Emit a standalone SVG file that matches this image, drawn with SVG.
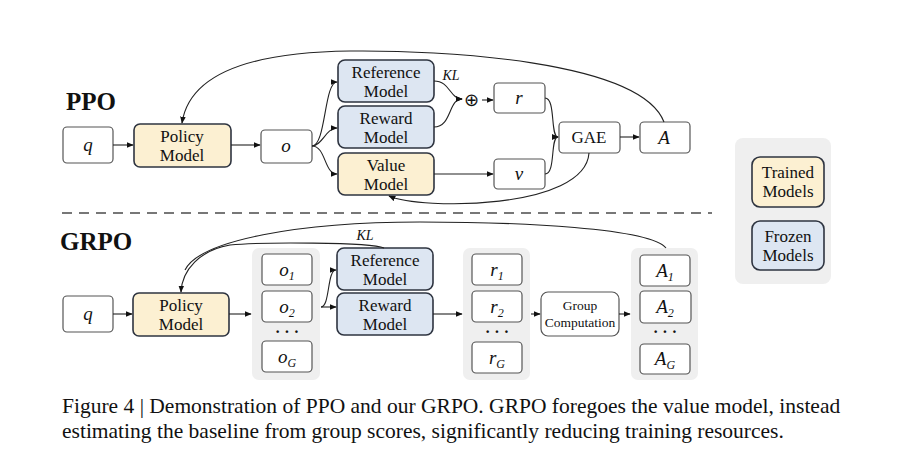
<svg xmlns="http://www.w3.org/2000/svg" width="900" height="454" viewBox="0 0 900 454" font-family="'Liberation Serif','Times New Roman',serif">
<defs>
<marker id="ah" viewBox="0 0 10 10" refX="9" refY="5" markerWidth="7" markerHeight="7" markerUnits="userSpaceOnUse" orient="auto"><path d="M0,1 L10,5 L0,9 z" fill="#111"/></marker>
<style>
.w{fill:#fff;stroke:#555;stroke-width:1.2}
.y{fill:#fcf0d2;stroke:#2e3440;stroke-width:1.6}
.b{fill:#dde6f2;stroke:#2e3440;stroke-width:1.6}
.g{fill:#efefef;stroke:none}
text{font-family:'Liberation Serif','Times New Roman',serif;fill:#111;text-anchor:middle}
.t{font-size:17px}
.m{font-size:19px;font-style:italic}
.s{font-size:12px;font-style:italic}
.h{font-size:25px;font-weight:bold;text-anchor:start}
.c{fill:none;stroke:#222;stroke-width:1.1}
</style>
</defs>
<rect width="900" height="454" fill="#fff"/>
<text class="h" x="66" y="110">PPO</text>
<text class="h" x="60" y="250">GRPO</text>
<line x1="62" y1="213" x2="712" y2="213" stroke="#777" stroke-width="2.2" stroke-dasharray="10,7"/>
<g id="legend"><rect class="g" x="735" y="138" width="96" height="146" rx="8"/>
<rect class="y" x="752" y="157" width="72" height="50" rx="8"/><text class="t" x="788" y="178">Trained</text><text class="t" x="788" y="197">Models</text>
<rect class="b" x="752" y="221" width="72" height="49" rx="8"/><text class="t" x="788" y="242">Frozen</text><text class="t" x="788" y="261">Models</text></g>
<g id="ppo-q"><rect class="w" x="63" y="127" width="50" height="36" rx="4"/><text class="m" x="88" y="151">q</text></g>
<g id="ppo-policy"><rect class="y" x="134" y="124" width="97" height="43" rx="6"/><text class="t" x="182" y="142">Policy</text><text class="t" x="182" y="161">Model</text></g>
<g id="ppo-o"><rect class="w" x="261" y="130" width="51" height="33" rx="4"/><text class="m" x="286" y="152">o</text></g>
<g id="ppo-ref"><rect class="b" x="338" y="60" width="96" height="42" rx="7"/><text class="t" x="386" y="78">Reference</text><text class="t" x="386" y="97">Model</text></g>
<g id="ppo-reward"><rect class="b" x="338" y="106" width="96" height="42" rx="7"/><text class="t" x="386" y="124">Reward</text><text class="t" x="386" y="143">Model</text></g>
<g id="ppo-value"><rect class="y" x="338" y="153" width="96" height="42" rx="7"/><text class="t" x="386" y="171">Value</text><text class="t" x="386" y="190">Model</text></g>
<g id="ppo-plus"><text x="471" y="106" style="font-size:18px">⊕</text></g>
<g id="ppo-r"><rect class="w" x="494" y="83" width="51" height="30" rx="4"/><text class="m" x="519" y="104">r</text></g>
<g id="ppo-v"><rect class="w" x="494" y="159" width="51" height="30" rx="4"/><text class="m" x="519" y="180">v</text></g>
<g id="ppo-gae"><rect class="w" x="559" y="122" width="61" height="31" rx="4"/><text class="t" x="589" y="143">GAE</text></g>
<g id="ppo-A"><rect class="w" x="640" y="122" width="50" height="31" rx="4"/><text class="m" x="664" y="144">A</text></g>
<g id="grpo-q"><rect class="w" x="63" y="296" width="50" height="36" rx="4"/><text class="m" x="88" y="320">q</text></g>
<g id="grpo-policy"><rect class="y" x="133" y="293" width="96" height="43" rx="6"/><text class="t" x="181" y="311">Policy</text><text class="t" x="181" y="330">Model</text></g>
<g id="grpo-o"><rect class="g" x="252" y="248" width="68" height="132" rx="7"/>
<rect class="w" x="262" y="254" width="50" height="31" rx="4"/><text class="m" x="287" y="276">o<tspan class="s" dy="4">1</tspan></text>
<rect class="w" x="262" y="291" width="50" height="31" rx="4"/><text class="m" x="287" y="313">o<tspan class="s" dy="4">2</tspan></text>
<text x="287" y="337" style="font-size:16px;font-weight:bold">· · ·</text>
<rect class="w" x="262" y="341" width="50" height="31" rx="4"/><text class="m" x="287" y="363">o<tspan class="s" dy="4">G</tspan></text></g>
<g id="grpo-ref"><rect class="b" x="337" y="248" width="96" height="42" rx="7"/><text class="t" x="385" y="266">Reference</text><text class="t" x="385" y="285">Model</text></g>
<g id="grpo-reward"><rect class="b" x="337" y="293" width="96" height="42" rx="7"/><text class="t" x="385" y="311">Reward</text><text class="t" x="385" y="330">Model</text></g>
<g id="grpo-r"><rect class="g" x="463" y="248" width="67" height="132" rx="7"/>
<rect class="w" x="472" y="254" width="50" height="31" rx="4"/><text class="m" x="497" y="276">r<tspan class="s" dy="4">1</tspan></text>
<rect class="w" x="472" y="291" width="50" height="31" rx="4"/><text class="m" x="497" y="313">r<tspan class="s" dy="4">2</tspan></text>
<text x="497" y="337" style="font-size:16px;font-weight:bold">· · ·</text>
<rect class="w" x="472" y="342" width="50" height="31" rx="4"/><text class="m" x="497" y="364">r<tspan class="s" dy="4">G</tspan></text></g>
<g id="grpo-gc"><rect class="w" x="541" y="292" width="78" height="44" rx="7"/><text x="580" y="310" style="font-size:13.5px">Group</text><text x="580" y="327" style="font-size:13.5px">Computation</text></g>
<g id="grpo-A"><rect class="g" x="631" y="248" width="67" height="132" rx="7"/>
<rect class="w" x="640" y="255" width="50" height="31" rx="4"/><text class="m" x="665" y="277">A<tspan class="s" dy="4">1</tspan></text>
<rect class="w" x="640" y="291" width="51" height="32" rx="4"/><text class="m" x="665" y="313">A<tspan class="s" dy="4">2</tspan></text>
<text x="665" y="337" style="font-size:16px;font-weight:bold">· · ·</text>
<rect class="w" x="640" y="344" width="50" height="30" rx="4"/><text class="m" x="665" y="365">A<tspan class="s" dy="4">G</tspan></text></g>
<g id="connectors">
<path class="c" d="M113,145 H133" marker-end="url(#ah)"/>
<path class="c" d="M231,145 H260" marker-end="url(#ah)"/>
<path class="c" d="M312,146 C326,146 324,82 337,82" marker-end="url(#ah)"/>
<path class="c" d="M312,146 C322,146 326,128 337,128" marker-end="url(#ah)"/>
<path class="c" d="M312,146 C326,146 324,174 337,174" marker-end="url(#ah)"/>
<path class="c" d="M434,81 C450,81 450,99 462,99" marker-end="url(#ah)"/>
<path class="c" d="M434,127 C452,127 448,99 462,99" marker-end="url(#ah)"/>
<text x="451" y="80" style="font-size:14px;font-style:italic">KL</text>
<path class="c" d="M482,100 H493" marker-end="url(#ah)"/>
<path class="c" d="M434,174 H493" marker-end="url(#ah)"/>
<path class="c" d="M545,98 C556,98 550,137 558,137" marker-end="url(#ah)"/>
<path class="c" d="M545,174 C556,174 550,137 558,137" marker-end="url(#ah)"/>
<path class="c" d="M620,137 H639" marker-end="url(#ah)"/>
<path class="c" d="M664,122 C640,60 440,50 350,51 C260,52 190,70 182,123" marker-end="url(#ah)"/>
<path class="c" d="M589,153 C585,210 420,210 389,196" marker-end="url(#ah)"/>
<path class="c" d="M113,314 H132" marker-end="url(#ah)"/>
<path class="c" d="M229,314 H251" marker-end="url(#ah)"/>
<path class="c" d="M321,307 C330,307 327,270 336,270" marker-end="url(#ah)"/>
<path class="c" d="M321,307 H336" marker-end="url(#ah)"/>
<path class="c" d="M433,314 H462" marker-end="url(#ah)"/>
<path class="c" d="M531,314 H540" marker-end="url(#ah)"/>
<path class="c" d="M619,314 H630" marker-end="url(#ah)"/>
<path class="c" stroke-width="1.6" d="M384,248 C370,242 260,242 230,245 C200,250 182,270 181,292" marker-end="url(#ah)"/>
<text x="365" y="240" style="font-size:14px;font-style:italic">KL</text>
<path class="c" d="M666,248 C650,228 520,222 420,222 C300,222 200,240 185,270"/>
</g>
<text x="62" y="413" style="font-size:21.5px;text-anchor:start">Figure 4 | Demonstration of PPO and our GRPO. GRPO foregoes the value model, instead</text>
<text x="62" y="438" style="font-size:21.5px;text-anchor:start">estimating the baseline from group scores, significantly reducing training resources.</text>
</svg>
